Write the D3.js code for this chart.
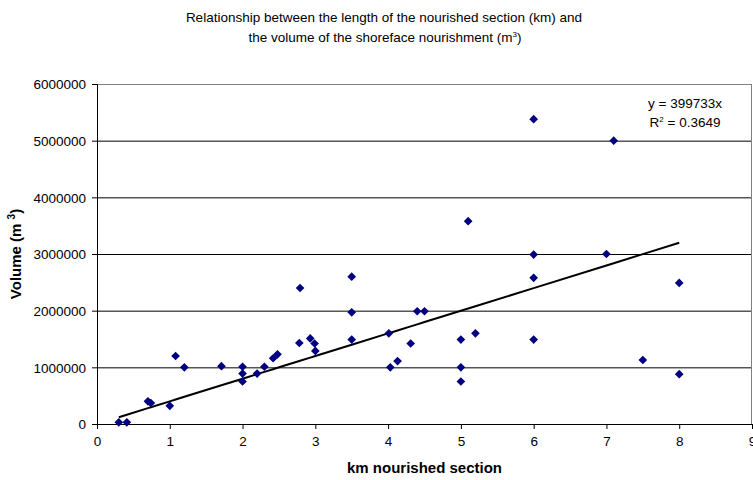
<!DOCTYPE html>
<html>
<head>
<meta charset="utf-8">
<script src="https://cdn.jsdelivr.net/npm/d3@7"></script>
<style>
  body { margin: 0; background: #fff; }
  text { font-family: "Liberation Sans", Arial, sans-serif; }
</style>
</head>
<body>
<div id="chart"></div>
<script>
// km nourished section
const kmValues = [0.3, 0.41, 0.7, 0.74, 1.0, 1.08, 1.2, 1.71, 2.0, 2.0, 2.0, 2.2, 2.3, 2.42, 2.48,
  2.78, 2.79, 2.93, 2.99, 3.0, 3.5, 3.5, 3.5, 4.01, 4.03, 4.13, 4.31, 4.4, 4.5,
  5.0, 5.0, 5.0, 5.1, 5.2, 6.0, 6.0, 6.0, 6.0, 7.0, 7.1, 7.5, 8.0, 8.0]
// volume (m3)
const volumeValues = [30000, 30000, 400000, 370000, 320000, 1200000, 1000000, 1020000, 1010000, 890000, 750000, 890000, 1010000, 1160000, 1230000,
  1430000, 2400000, 1510000, 1420000, 1290000, 2600000, 1970000, 1490000, 1600000, 1000000, 1110000, 1420000, 1990000, 1990000,
  1490000, 1000000, 750000, 3580000, 1600000, 5380000, 2990000, 2580000, 1490000, 3000000, 5000000, 1130000, 2490000, 880000]
const yTicks = [0, 1000000, 2000000, 3000000, 4000000, 5000000, 6000000]
const xTicks = [0, 1, 2, 3, 4, 5, 6, 7, 8, 9]
const trendSlope = 399733
const trendR2 = 0.3649

const params = {
  fullWidth: 753, fullHeight: 480,
  leftMargin: 97, rightMargin: 1, topMargin: 84, bottomMargin: 56,
  getWidth() { return this.fullWidth - this.leftMargin - this.rightMargin },
  getHeight() { return this.fullHeight - this.topMargin - this.bottomMargin }
}

const data = kmValues.map((k, i) => ({ x: k, y: volumeValues[i] }))

const svg = d3.select("#chart").append("svg")
  .attr("width", params.fullWidth)
  .attr("height", params.fullHeight)

// title
const title = svg.append("text")
  .attr("x", 384)
  .attr("y", 22)
  .attr("text-anchor", "middle")
  .attr("font-size", "13.5px")
title.append("tspan").text("Relationship between the length of the nourished section (km) and")
const t2 = svg.append("text")
  .attr("x", 385)
  .attr("y", 42)
  .attr("text-anchor", "middle")
  .attr("font-size", "13.5px")
t2.append("tspan").text("the volume of the shoreface nourishment (m")
t2.append("tspan").attr("dy", -5).attr("font-size", "8px").text("3")
t2.append("tspan").attr("dy", 5).text(")")

const g = svg.append("g")
  .attr("transform", `translate(${params.leftMargin},${params.topMargin})`)

const x = d3.scaleLinear().domain([0, 9]).range([0, params.getWidth()])
const y = d3.scaleLinear().domain([0, 6000000]).range([params.getHeight(), 0])

// gridlines
g.append("g").selectAll("line")
  .data(yTicks.filter(d => d > 0))
  .enter().append("line")
  .attr("x1", 0)
  .attr("x2", params.getWidth())
  .attr("y1", d => y(d) + 0.5)
  .attr("y2", d => y(d) + 0.5)
  .attr("stroke", d => d === 6000000 ? "#808080" : "#000")
  .attr("stroke-width", 1)

// right border
g.append("line")
  .attr("x1", params.getWidth() - 0.5).attr("x2", params.getWidth() - 0.5)
  .attr("y1", 0).attr("y2", params.getHeight())
  .attr("stroke", "#808080")

// axes
const xAxisCall = d3.axisBottom(x).tickValues(xTicks).tickSize(5).tickPadding(7).tickFormat(d3.format("d"))
const yAxisCall = d3.axisLeft(y).tickValues(yTicks).tickSize(5).tickPadding(6).tickFormat(d => d)

const xAxisGroup = g.append("g")
  .attr("class", "x axis")
  .attr("transform", `translate(0, ${params.getHeight()})`)
  .call(xAxisCall)
const yAxisGroup = g.append("g")
  .attr("class", "y axis")
  .call(yAxisCall)

for (const ag of [xAxisGroup, yAxisGroup]) {
  ag.select(".domain").attr("stroke", "#000").attr("stroke-width", 1)
  ag.selectAll(".tick line").attr("stroke", "#000")
  ag.selectAll("text")
    .attr("font-family", "Liberation Sans, Arial, sans-serif")
    .attr("font-size", "13.5px")
    .attr("fill", "#000")
}
yAxisGroup.selectAll("text").attr("dy", "0.35em")

// axis labels
g.append("text")
  .attr("class", "x axis-label")
  .attr("x", params.getWidth() / 2)
  .attr("y", params.getHeight() + 49)
  .attr("font-size", "15px")
  .attr("font-weight", "bold")
  .attr("text-anchor", "middle")
  .text("km nourished section")

const yl = g.append("text")
  .attr("class", "y axis-label")
  .attr("x", -(params.getHeight() / 2))
  .attr("y", -76)
  .attr("font-size", "15px")
  .attr("font-weight", "bold")
  .attr("text-anchor", "middle")
  .attr("transform", "rotate(-90)")
yl.append("tspan").text("Volume (m ")
yl.append("tspan").attr("dy", -6).attr("font-size", "10px").text("3")
yl.append("tspan").attr("dy", 6).text(")")

// trendline through sorted x values
const sorted = data.slice().sort((a, b) => a.x - b.x)
g.append("path")
  .datum(sorted)
  .attr("fill", "none")
  .attr("stroke", "#000")
  .attr("stroke-width", 2)
  .attr("d", d3.line()
    .x(d => x(d.x))
    .y(d => y(trendSlope * d.x)))

// points
g.selectAll("path.pt")
  .data(data)
  .enter().append("path")
  .attr("class", "pt")
  .attr("d", d3.symbol().type(d3.symbolDiamond2).size(48))
  .attr("transform", d => `translate(${x(d.x)},${y(d.y)})`)
  .attr("fill", "#000080")

// equation
const eq = g.append("g").attr("font-size", "13.5px").attr("text-anchor", "middle")
eq.append("text")
  .attr("x", 588)
  .attr("y", 24)
  .text(`y = ${trendSlope}x`)
const r2 = eq.append("text")
  .attr("x", 588)
  .attr("y", 43)
r2.append("tspan").text("R")
r2.append("tspan").attr("dy", -5).attr("font-size", "8px").text("2")
r2.append("tspan").attr("dy", 5).text(` = ${trendR2}`)
</script>
</body>
</html>
